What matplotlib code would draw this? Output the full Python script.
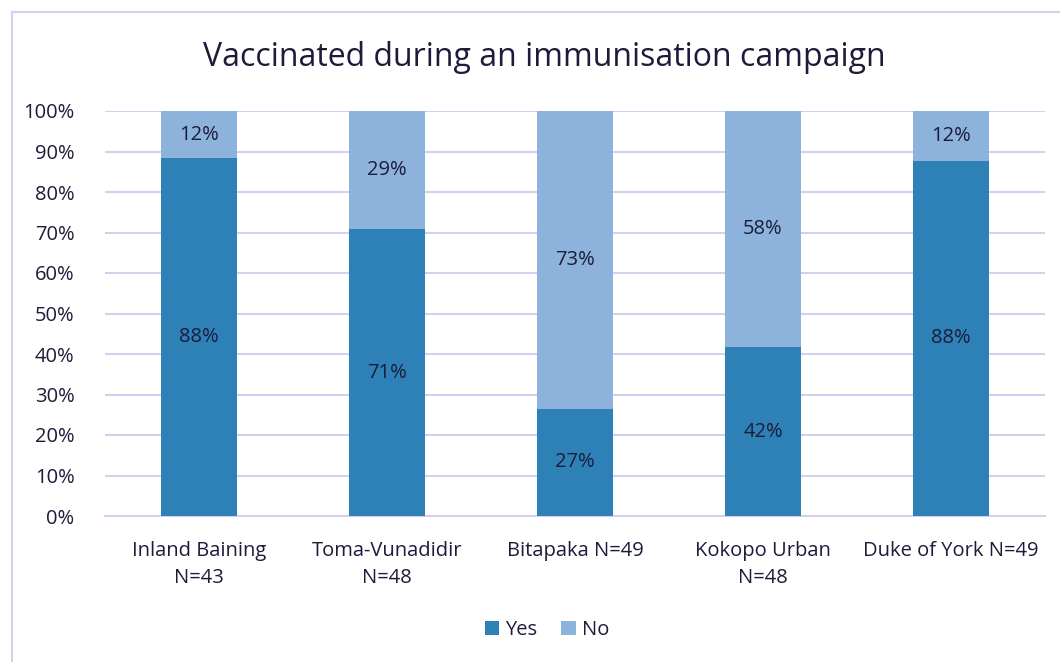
import numpy as np
import matplotlib
matplotlib.use('Agg')
import matplotlib.pyplot as plt
from matplotlib.lines import Line2D

plt.rcParams['font.family'] = ['Open Sans', 'DejaVu Sans']

categories = ['Inland Baining\nN=43', 'Toma-Vunadidir\nN=48', 'Bitapaka N=49',
              'Kokopo Urban\nN=48', 'Duke of York N=49']
yes = [88.37, 70.83, 26.53, 41.67, 87.76]
no = [11.63, 29.17, 73.47, 58.33, 12.24]

c_yes = '#2E81B7'
c_no = '#8DB3DC'
txt = '#1C1C3A'
grid_c = '#D3D0F0'
fs = 14.5

fig = plt.figure(figsize=(10.6, 6.62), dpi=100)
ax = fig.add_axes([105/1060, 1-516/662, 940/1060, 405/662])

x = np.arange(len(categories))
ax.bar(x, yes, width=0.4, color=c_yes, zorder=3, label='Yes')
ax.bar(x, no, width=0.4, bottom=yes, color=c_no, zorder=3, label='No')

for i in range(len(x)):
    ax.text(x[i], yes[i] / 2, '%d%%' % int(yes[i] + 0.5), ha='center', va='center',
            fontsize=fs, color=txt, zorder=4)
    ax.text(x[i], yes[i] + no[i] / 2, '%d%%' % int(no[i] + 0.5), ha='center', va='center',
            fontsize=fs, color=txt, zorder=4)

ax.set_xlim(-0.5, len(x) - 0.5)
ax.set_ylim(0, 100)
ax.set_yticks(np.arange(0, 101, 10))
ax.set_yticklabels(['%d%%' % v for v in range(0, 101, 10)])
ax.set_xticks(x)
ax.set_xticklabels(categories, linespacing=1.45)
ax.tick_params(axis='both', length=0, labelsize=fs, labelcolor=txt)
ax.tick_params(axis='x', pad=18)
ax.tick_params(axis='y', pad=22)
ax.grid(axis='y', color=grid_c, lw=1.5, zorder=0)
for s in ['top', 'right', 'left']:
    ax.spines[s].set_visible(False)
ax.spines['bottom'].set_color(grid_c)
ax.spines['bottom'].set_linewidth(1.5)

fig.text(544/1060, 1-57/662, 'Vaccinated during an immunisation campaign',
         ha='center', va='center', fontsize=23, color=txt)

fig.legend(loc='center', bbox_to_anchor=(547/1060, 1-630/662), ncol=2, frameon=False,
           fontsize=fs, handlelength=0.7, handleheight=0.7, handletextpad=0.3,
           columnspacing=1.2, labelcolor=txt)

fig.add_artist(Line2D([12/1060, 12/1060], [0, 1-12/662], color=grid_c, lw=1.5))
fig.add_artist(Line2D([12/1060, 1], [1-12/662, 1-12/662], color=grid_c, lw=1.5))

fig.savefig('out.png', dpi=100)
